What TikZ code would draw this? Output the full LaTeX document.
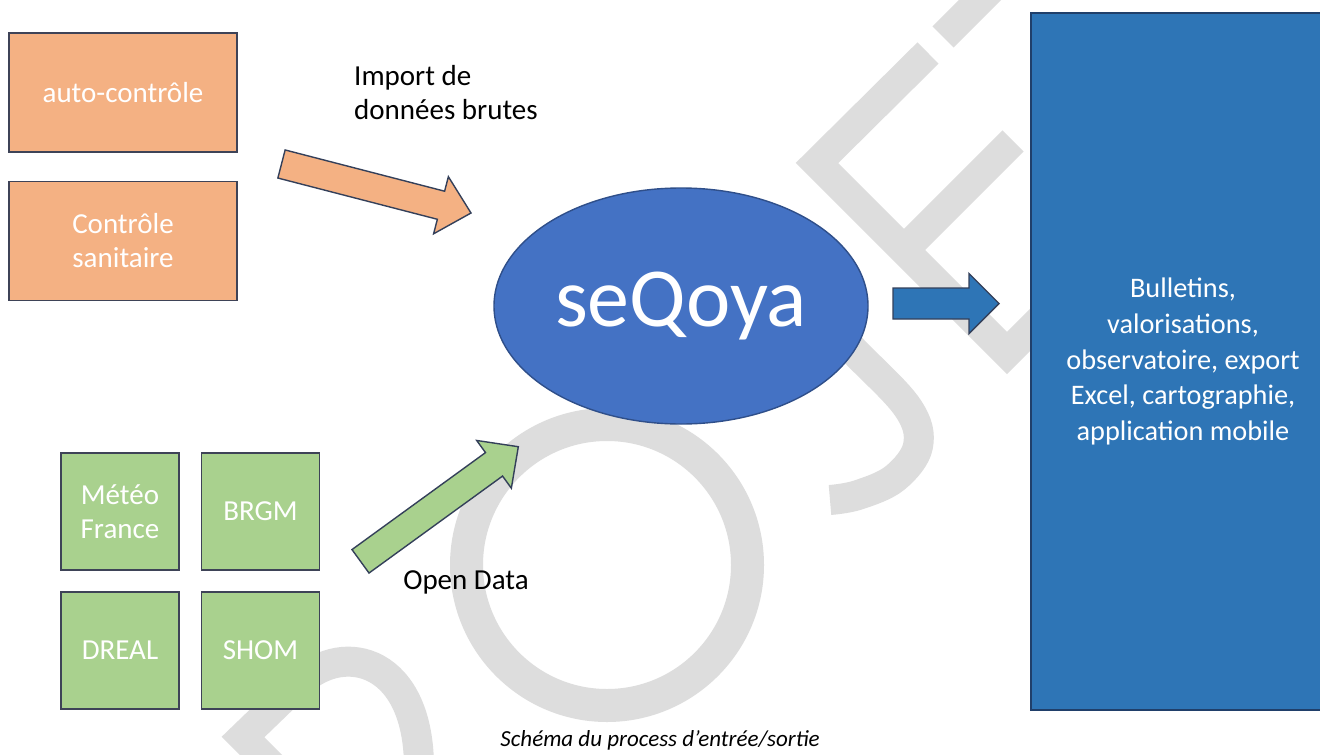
\documentclass[tikz,border=0pt]{standalone}
\usepackage{fontspec}
\setmainfont{Carlito}
\usetikzlibrary{shapes.geometric,calc}
\definecolor{orangefill}{HTML}{F4B183}
\definecolor{greenfill}{HTML}{A9D18E}
\definecolor{ellfill}{HTML}{4472C4}
\definecolor{bluefill}{HTML}{2E75B6}
\definecolor{boxline}{HTML}{3E4357}
\definecolor{arrline}{HTML}{34405A}
\definecolor{ellline}{HTML}{2F4F8A}
\definecolor{rectline}{HTML}{203F6A}
\definecolor{wmgray}{HTML}{DDDDDD}
\newcommand{\blockarrow}[6]{%
  \coordinate (#1-base) at ($(#2)!#5!(#1)$);
  \path[#6] ($(#1)!#3!90:(#2)$) -- ($(#1-base)!#3!-90:(#1)$) -- ($(#1-base)!#4!-90:(#1)$) -- (#2)
    -- ($(#1-base)!#4!90:(#1)$) -- ($(#1-base)!#3!90:(#1)$) -- ($(#1)!#3!-90:(#2)$) -- cycle;
}
\tikzset{
  txt/.style={font=\fontsize{29}{34}\selectfont},
  obox/.style={draw=boxline, line width=1.6pt, fill=orangefill, minimum width=228pt, minimum height=119pt,
    inner sep=0pt, text=white, align=center, txt},
  gbox/.style={draw=boxline, line width=1.6pt, fill=greenfill, minimum width=118pt, minimum height=117pt,
    inner sep=0pt, text=white, align=center, txt},
  blockarr/.style={draw=arrline, line width=1.4pt, line join=miter},
  wm/.style={draw=wmgray, line width=30pt},
}
\begin{document}
\begin{tikzpicture}[x=1pt,y=-1pt]
\useasboundingbox (0,0) rectangle (1320,755);
\clip (0,0) rectangle (1320,755);
\fill[white] (0,0) rectangle (1320,755);
% watermark
\draw[wm, line width=33pt] (607,565) circle[radius=140.5];
\draw[wm, line join=miter, miter limit=10] (928,53) -- (817,163) -- (1007,353) -- (1110,250);
\draw[wm] (904,250) -- (1013,141);
\draw[wm] (943,37) -- (1080,-100);
\draw[wm, line join=round] plot[smooth, tension=0.6] coordinates {(780,277) (855,352) (908,408) (918,446) (895,478) (858,495) (830,500)};
\draw[wm, line join=miter, miter limit=10] (276,770) -- (243,737) -- (300,682) .. controls (345,640) and (420,660) .. (419,770);
% sources
\node[obox] (auto) at (123,92.5) {auto-contrôle};
\node[obox] (sanit) at (123,241) {Contrôle\\sanitaire};
\node[gbox] (meteo) at (120,511.5) {Météo\\France};
\node[gbox] (brgm) at (260.5,511.5) {BRGM};
\node[gbox] (dreal) at (120,650.5) {DREAL};
\node[gbox] (shom) at (260.5,650.5) {SHOM};
% centre
\node[ellipse, draw=ellline, line width=1.4pt, fill=ellfill, minimum width=374pt, minimum height=236pt,
  inner sep=0pt, text=white, font=\fontsize{84}{90}\selectfont] (seq) at (681,306) {seQoya};
% output
\node[draw=rectline, line width=1.4pt, fill=bluefill, minimum width=304pt, minimum height=697pt,
  inner sep=0pt, text=white, align=center, font=\fontsize{28.3}{35.7}\selectfont] (out) at (1183,361.5)
  {Bulletins,\\valorisations,\\observatoire, export\\Excel, cartographie,\\application mobile};
% arrows
\coordinate (oT) at (281.5,164);
\coordinate (oH) at (471,213);
\blockarrow{oT}{oH}{14.5pt}{29.5pt}{31pt}{blockarr, fill=orangefill}
\coordinate (gT) at (360.5,561.3);
\coordinate (gH) at (518.3,446.7);
\blockarrow{gT}{gH}{14.5pt}{29.5pt}{30pt}{blockarr, fill=greenfill}
\coordinate (bT) at (893,303.5);
\coordinate (bH) at (999,303.5);
\blockarrow{bT}{bH}{15.5pt}{30pt}{30pt}{blockarr, fill=bluefill}
% labels
\node[txt, anchor=west, align=left, inner sep=0pt] (imp) at (354,93) {Import de\\données brutes};
\node[txt, inner sep=0pt] (open) at (466,582) {Open Data};
\node[font=\fontsize{23}{26}\selectfont\itshape, inner sep=0pt] (cap) at (660,740) {Schéma du process d’entrée/sortie};
\end{tikzpicture}
\end{document}
